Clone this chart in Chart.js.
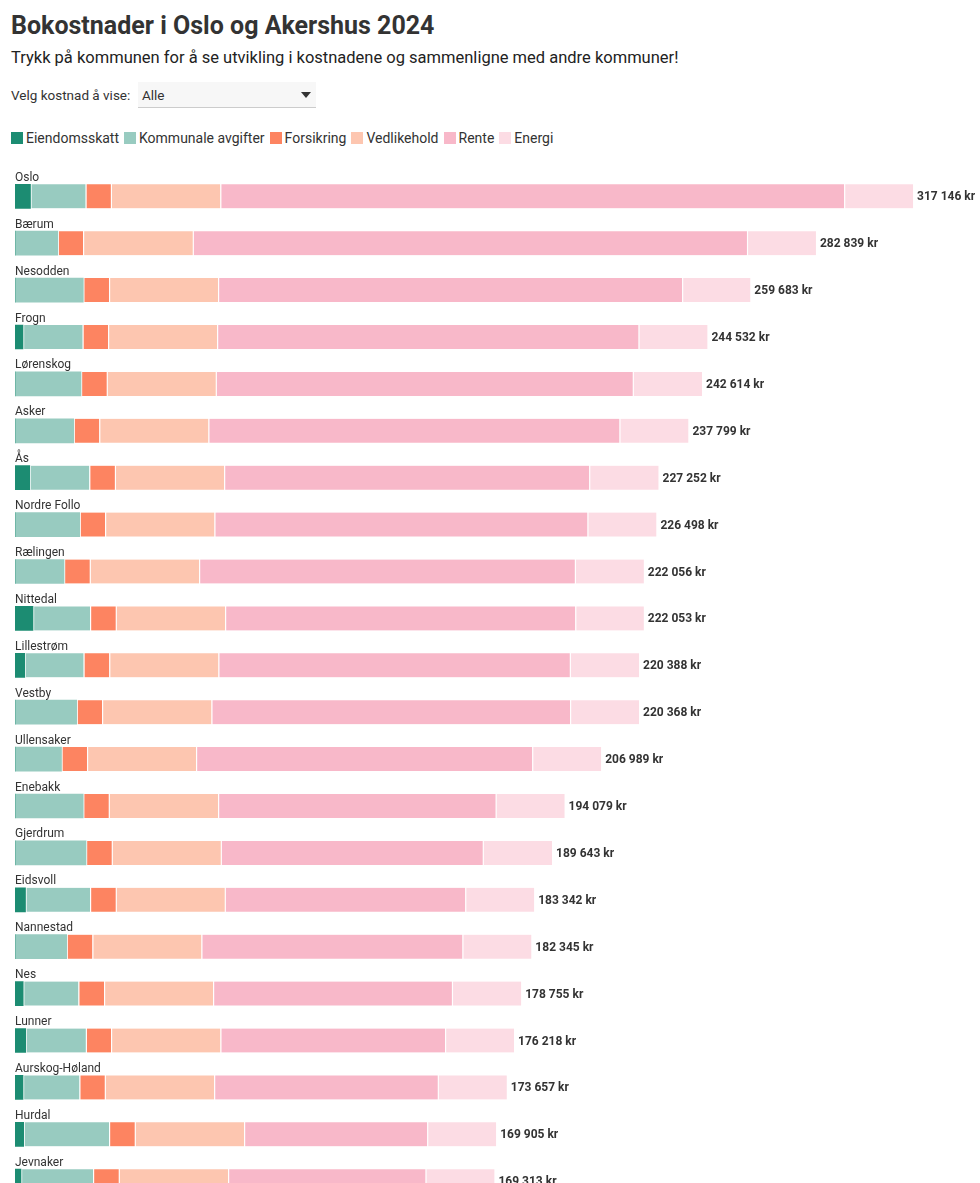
<!DOCTYPE html>
<html lang="no">
<head>
<meta charset="utf-8">
<title>Bokostnader i Oslo og Akershus 2024</title>
<script src="https://cdn.jsdelivr.net/npm/chart.js@4/dist/chart.umd.min.js"></script>
<style>
  body { margin: 0; background: #fff; font-family: Roboto, "Noto Sans", sans-serif; color: #333; overflow: hidden; }
  #tittel { position: absolute; left: 11px; top: 11px; margin: 0; font-size: 25px; font-weight: 700; color: #333; }
  #ingress { position: absolute; left: 11px; top: 48px; margin: 0; font-size: 16.5px; color: #222; }
  #velg { position: absolute; left: 11px; top: 87px; font-size: 13.5px; color: #333; }
  #boks { position: absolute; left: 138px; top: 82px; width: 178px; height: 25px; background: #f7f7f7; border-bottom: 1px solid #ccc; font-size: 13.5px; }
  #boks span { position: absolute; left: 4px; top: 5px; }
  #boks i { position: absolute; right: 5px; top: 10px; width: 0; height: 0; border-left: 5px solid transparent; border-right: 5px solid transparent; border-top: 6px solid #333; }
  #legende { position: absolute; left: 11px; top: 130px; font-size: 14px; color: #333; display: flex; }
  #legende div { display: flex; align-items: center; margin-right: 5px; }
  #legende b { display: inline-block; width: 12px; height: 12px; margin-right: 3px; }
  #boksen { position: absolute; left: 0; top: 160px; width: 980px; height: 1060px; }
</style>
</head>
<body>
<h1 id="tittel">Bokostnader i Oslo og Akershus 2024</h1>
<p id="ingress">Trykk på kommunen for å se utvikling i kostnadene og sammenligne med andre kommuner!</p>
<div id="velg">Velg kostnad å vise:</div>
<div id="boks"><span>Alle</span><i></i></div>
<div id="legende"></div>
<div id="boksen"><canvas id="myChart"></canvas></div>

<script>
// kommunene, sortert etter samlet kostnad
var kommuner = ['Oslo', 'Bærum', 'Nesodden', 'Frogn', 'Lørenskog', 'Asker', 'Ås', 'Nordre Follo',
    'Rælingen', 'Nittedal', 'Lillestrøm', 'Vestby', 'Ullensaker', 'Enebakk', 'Gjerdrum', 'Eidsvoll',
    'Nannestad', 'Nes', 'Lunner', 'Aurskog-Høland', 'Hurdal', 'Jevnaker'];

// kostnader i kroner per år
var eiendomsskatt = [5470, 0, 0, 2830, 0, 0, 5230, 0, 0, 6360, 3460, 0, 0, 0, 0, 3710, 0, 2900, 3810, 2830, 3070, 2120];
var kommunaleAvgifter = [19430, 15120, 24120, 21020, 23310, 20730, 20980, 22850, 17310, 20130, 20730, 21790, 16420, 24090, 25080, 22780, 18260, 19460, 21190, 19890, 30130, 25430];
var forsikring = [8940, 8900, 9070, 9000, 9070, 9000, 9050, 8940, 9070, 9070, 9070, 8940, 9000, 9000, 9070, 9070, 9040, 9070, 8900, 8970, 9070, 9070];
var vedlikehold = [38640, 38740, 38500, 38500, 38500, 38540, 38570, 38610, 38610, 38610, 38540, 38610, 38500, 38610, 38500, 38500, 38500, 38500, 38610, 38610, 38610, 38610];
var rente = [220296, 195709, 163873, 148812, 147254, 145159, 128912, 131728, 132696, 123653, 124108, 126658, 118699, 98009, 92513, 84912, 92175, 84345, 79338, 78987, 64655, 69713];
var energi = [24370, 24370, 24120, 24370, 24480, 24370, 24510, 24370, 24370, 24230, 24480, 24370, 24370, 24370, 24480, 24370, 24370, 24480, 24370, 24370, 24370, 24370];

var xMax = 338300;

var serier = [
    { navn: 'Eiendomsskatt', data: eiendomsskatt, farge: '#1c8c72' },
    { navn: 'Kommunale avgifter', data: kommunaleAvgifter, farge: '#98cbc0' },
    { navn: 'Forsikring', data: forsikring, farge: '#fd8461' },
    { navn: 'Vedlikehold', data: vedlikehold, farge: '#fdc6b0' },
    { navn: 'Rente', data: rente, farge: '#f8b8c9' },
    { navn: 'Energi', data: energi, farge: '#fcdce4' }
];

// legenden
var legende = document.getElementById('legende');
serier.forEach(function (s) {
    var el = document.createElement('div');
    el.innerHTML = '<b style="background:' + s.farge + '"></b>' + s.navn;
    legende.appendChild(el);
});

function kroner(v) {
    return String(v).replace(/\B(?=(\d{3})+(?!\d))/g, ' ') + ' kr';
}

// hvit strek mellom segmentene
function skille(context) {
    var i = context.dataIndex;
    var harForan = false;
    for (var d = 0; d < context.datasetIndex; d++) {
        if (serier[d].data[i] > 0) harForan = true;
    }
    return { left: harForan ? 1.5 : 0, right: 0, top: 0, bottom: 0 };
}

// navn over stolpen og sum til høyre
var etiketter = {
    id: 'etiketter',
    afterDatasetsDraw: function (chart) {
        var ctx = chart.ctx;
        var sisteMeta = chart.getDatasetMeta(serier.length - 1);
        var x = chart.scales.x;
        ctx.save();
        kommuner.forEach(function (navn, i) {
            var bar = sisteMeta.data[i];
            var topp = bar.y - bar.height / 2;
            ctx.font = '12px Roboto, sans-serif';
            ctx.fillStyle = '#333';
            ctx.textAlign = 'left';
            ctx.textBaseline = 'alphabetic';
            ctx.fillText(navn, chart.chartArea.left, topp - 3.5);

            var sum = 0;
            serier.forEach(function (s) { sum += s.data[i]; });
            ctx.font = 'bold 12px Roboto, sans-serif';
            ctx.textBaseline = 'middle';
            ctx.fillText(kroner(sum), x.getPixelForValue(sum) + 4, bar.y + 1);
        });
        ctx.restore();
    }
};

var ctx = document.getElementById('myChart').getContext('2d');
var myChart = new Chart(ctx, {
    type: 'bar',
    data: {
        labels: kommuner,
        datasets: serier.map(function (s) {
            return {
                label: s.navn,
                data: s.data,
                backgroundColor: s.farge,
                borderColor: '#fff',
                borderWidth: skille,
                borderSkipped: false,
                barThickness: 24
            };
        })
    },
    options: {
        indexAxis: 'y',
        responsive: true,
        maintainAspectRatio: false,
        animation: false,
        layout: {
            padding: { left: 15, right: 7, top: 12.85, bottom: 15.35 }
        },
        scales: {
            x: { stacked: true, min: 0, max: xMax, display: false },
            y: { stacked: true, display: false }
        },
        plugins: {
            legend: { display: false },
            tooltip: { enabled: false }
        }
    },
    plugins: [etiketter]
});
</script>
</body>
</html>
